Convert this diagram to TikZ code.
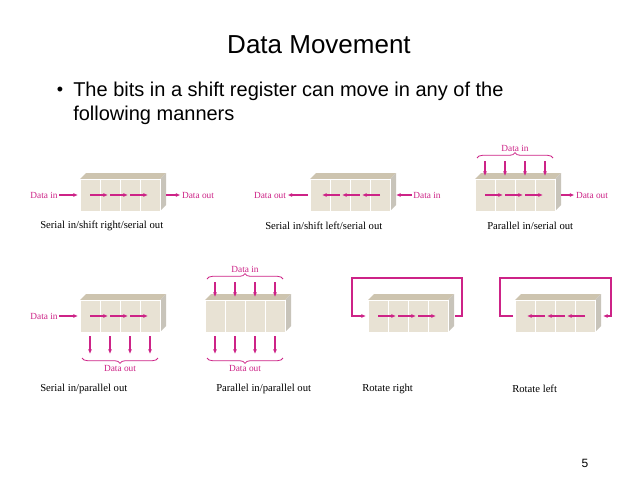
\documentclass[tikz,border=0pt]{standalone}
\usepackage{fontspec}
\setmainfont{Liberation Sans}
\newfontfamily\capfont{Liberation Serif}
\usetikzlibrary{arrows.meta,decorations.pathreplacing}
\definecolor{freccia}{RGB}{205,35,135}
\definecolor{cella}{RGB}{232,226,212}
\definecolor{cellatop}{RGB}{205,196,175}
\tikzset{
  flow/.style={freccia, line width=0.9pt, -{Latex[length=3.5pt,width=3pt]}},
  dlabel/.style={freccia, font=\capfont\fontsize{7}{8}\selectfont, inner sep=1pt},
  caption/.style={font=\capfont\fontsize{8}{9}\selectfont, anchor=west, inner sep=0pt},
  brace/.style={freccia, line width=0.6pt, decorate, decoration={brace, amplitude=4pt}}
}
\newcommand{\registro}[2]{ % #1,#2 angolo in alto a sinistra della faccia frontale
  \fill[cellatop] (#1,#2) -- (#1+6,#2-6) -- (#1+86,#2-6) -- (#1+80,#2) -- cycle;
  \fill[cellatop!80!black!60] (#1+80,#2) -- (#1+86,#2-6) -- (#1+86,#2+26) -- (#1+80,#2+32) -- cycle;
  \foreach \x in {0,1,2,3} {
    \filldraw[fill=cella, draw=white, line width=0.4pt] (#1+20*\x,#2) rectangle (#1+20*\x+20,#2+32);
  }
}
\newcommand{\destra}[2]{ % frecce interne verso destra
  \foreach \x in {0,1,2} {
    \draw[flow] (#1+10+20*\x,#2+16) -- (#1+28+20*\x,#2+16);
  }
}
\newcommand{\sinistra}[2]{
  \foreach \x in {0,1,2} {
    \draw[flow] (#1+70-20*\x,#2+16) -- (#1+52-20*\x,#2+16);
  }
}
\newcommand{\sopra}[2]{ % ingresso parallelo
  \foreach \x in {0,1,2,3} {
    \draw[flow] (#1+10+20*\x,#2-18) -- (#1+10+20*\x,#2-3);
  }
  \draw[brace] (#1+2,#2-21) -- (#1+78,#2-21);
  \node[dlabel] (in#1) at (#1+40,#2-31) {Data in};
}
\newcommand{\sotto}[2]{ % uscita parallela
  \foreach \x in {0,1,2,3} {
    \draw[flow] (#1+10+20*\x,#2+36) -- (#1+10+20*\x,#2+54);
  }
  \draw[brace] (#1+78,#2+58) -- (#1+2,#2+58);
  \node[dlabel] (out#1) at (#1+40,#2+68) {Data out};
}
\begin{document}
\begin{tikzpicture}[x=0.75pt, y=-0.75pt]
  \useasboundingbox[fill=white] (0,0) rectangle (638,479);
  \node (title) at (319,45) {\fontsize{19.5}{22}\selectfont Data Movement};
  \node[anchor=north west, inner sep=0pt, align=left, font=\fontsize{15}{18}\selectfont] (bullet) at (73,82)
    {The bits in a shift register can move in any of the\\following manners};
  \node (dot) at (60,91) {\fontsize{13.5}{16}\selectfont •};
  \node (page) at (585,463) {\fontsize{9}{10}\selectfont 5};

  % riga 1
  \registro{80}{179} \destra{80}{179}
  \node[dlabel] (din1) at (44,195) {Data in};
  \draw[flow] (din1.east) -- (78,195);
  \node[dlabel] (dout1) at (198,195) {Data out};
  \draw[flow] (166,195) -- (dout1.west);
  \node[caption] (c1) at (40,226) {Serial in/shift right/serial out};

  \registro{310}{179} \sinistra{310}{179}
  \node[dlabel] (dout2) at (270,195) {Data out};
  \node[dlabel] (din2) at (427,195) {Data in};
  \draw[flow] (din2.west) -- (396,195);
  \draw[flow] (308,195) -- (dout2.east);
  \node[caption] (c2) at (265,226) {Serial in/shift left/serial out};

  \registro{475}{179} \destra{475}{179} \sopra{475}{179}
  \node[dlabel] (dout3) at (592,195) {Data out};
  \draw[flow] (561,195) -- (dout3.west);
  \node[caption] (c3) at (487,226) {Parallel in/serial out};

  % riga 2
  \registro{80}{300} \destra{80}{300} \sotto{80}{300}
  \node[dlabel] (din4) at (44,316) {Data in};
  \draw[flow] (din4.east) -- (78,316);
  \node[caption] (c4) at (40,389) {Serial in/parallel out};

  \registro{205}{300} \sopra{205}{300} \sotto{205}{300}
  \node[caption] (c5) at (216,389) {Parallel in/parallel out};

  \registro{368}{300} \destra{368}{300}
  \draw[flow] (455,316) -- (462,316) -- (462,278) -- (352,278) -- (352,316) -- (366,316);
  \node[caption] (c6) at (362,389) {Rotate right};

  \registro{515}{300} \sinistra{515}{300}
  \draw[flow] (513,316) -- (500,316) -- (500,278) -- (611,278) -- (611,316) -- (603,316);
  \node[caption] (c7) at (512,389) {Rotate left};
\end{tikzpicture}
\end{document}
